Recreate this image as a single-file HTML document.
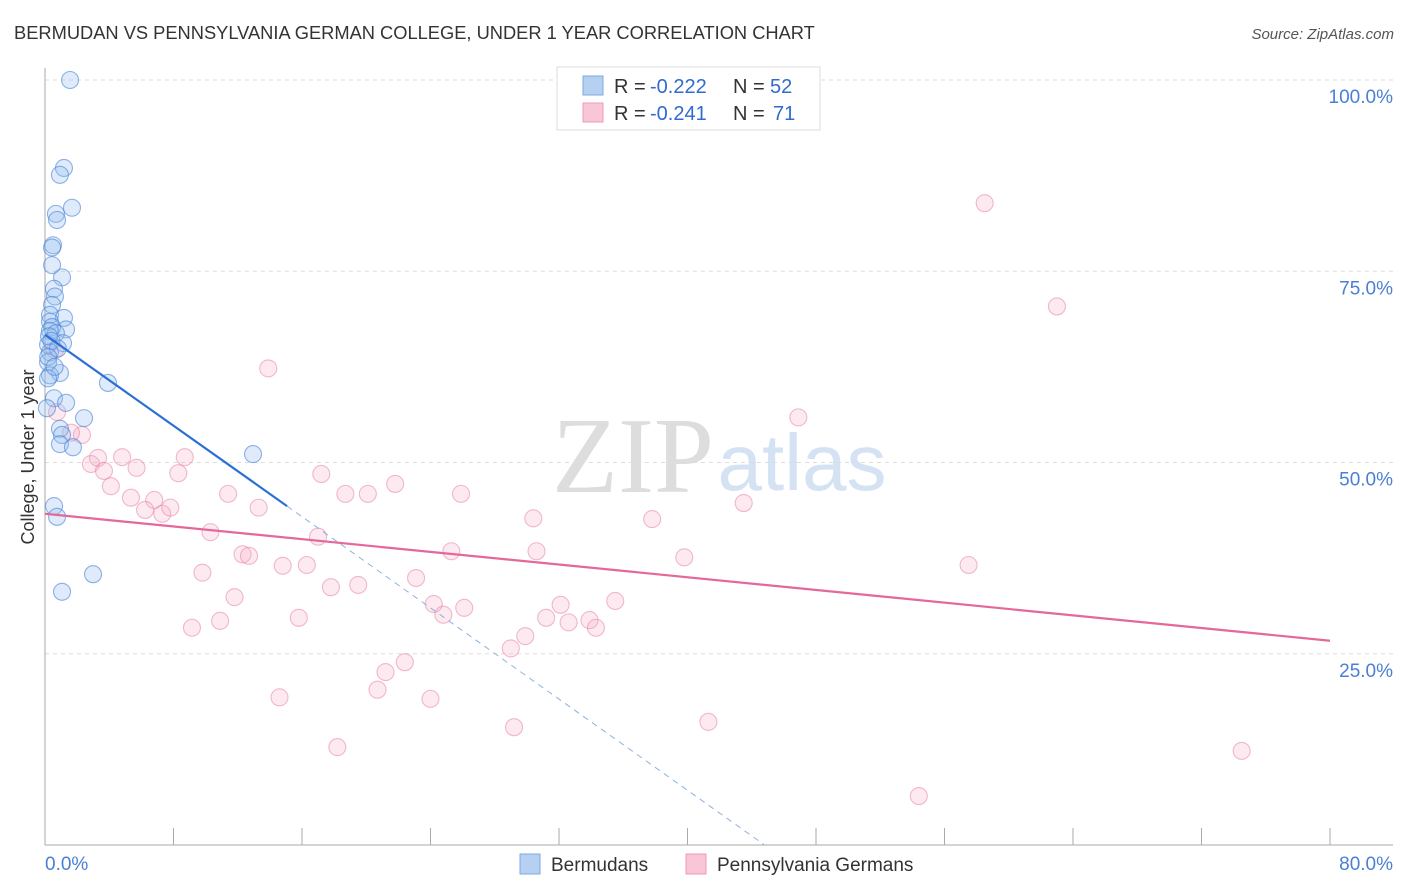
<!DOCTYPE html>
<html><head><meta charset="utf-8"><style>
body{margin:0;background:#fff;font-family:"Liberation Sans",sans-serif}
svg{display:block}
</style></head><body>
<svg id="chart" width="1406" height="892">
<text x="14" y="39" font-size="18.3" fill="#333">BERMUDAN VS PENNSYLVANIA GERMAN COLLEGE, UNDER 1 YEAR CORRELATION CHART</text>
<text x="1394" y="39" font-size="15" fill="#555" font-style="italic" text-anchor="end">Source: ZipAtlas.com</text>
<g>
<text x="633" y="492" font-size="108" fill="#ddd" font-family="Liberation Serif,serif" text-anchor="middle">ZIP</text>
<text x="802" y="490" font-size="80" fill="#d5e2f4" text-anchor="middle">atlas</text>
</g>
<g id="grid"></g>
<g id="axes"></g>
<g id="marks"></g>
<text transform="translate(34,457) rotate(-90)" font-size="18" fill="#333" text-anchor="middle">College, Under 1 year</text>
<text x="45" y="870" font-size="19" fill="#4a7fd4">0.0%</text>
<text x="1393" y="870" font-size="19" fill="#4a7fd4" text-anchor="end">80.0%</text>
<g>
<rect x="557" y="67" width="263" height="63" fill="#fff" stroke="#ddd"/>
<rect x="583" y="76" width="20" height="19" fill="#b6d0f2" stroke="#7fa8e0"/>
<rect x="583" y="103" width="20" height="19" fill="#f8c6d6" stroke="#ee9bb6"/>
<text x="614" y="93" font-size="20" fill="#333">R =</text>
<text x="650" y="93" font-size="20" fill="#2f6bd0">-0.222</text>
<text x="733" y="93" font-size="20" fill="#333">N =</text>
<text x="770" y="93" font-size="20" fill="#2f6bd0">52</text>
<text x="614" y="120" font-size="20" fill="#333">R =</text>
<text x="650" y="120" font-size="20" fill="#2f6bd0">-0.241</text>
<text x="733" y="120" font-size="20" fill="#333">N =</text>
<text x="773" y="120" font-size="20" fill="#2f6bd0">71</text>
</g>
<g>
<rect x="520" y="854" width="20" height="20" fill="#b6d0f2" stroke="#7fa8e0"/>
<text x="551" y="871" font-size="19" fill="#333">Bermudans</text>
<rect x="686" y="854" width="20" height="20" fill="#f8c6d6" stroke="#ee9bb6"/>
<text x="717" y="871" font-size="19" fill="#333">Pennsylvania Germans</text>
</g>
</svg>
<script>
const yTicks=[25,50,75,100];
const yTickLabels=["25.0%","50.0%","75.0%","100.0%"];
const xTicks=[0,8,16,24,32,40,48,56,64,72,80];
const blueX=[1.56,1.18,0.93,1.68,0.68,0.75,0.5,0.44,1.06,0.44,0.56,0.62,0.44,0.31,1.18,0.31,1.31,0.44,0.31,0.68,1.12,0.19,0.31,0.19,0.93,0.31,0.19,3.92,0.56,1.31,0.12,2.43,0.93,1.06,0.93,1.74,12.95,0.56,0.75,2.99,1.06,0.25,0.4,0.8,0.2,0.6];
const blueY=[100,88.5,87.6,83.3,82.5,81.7,78.4,78.1,74.2,75.8,72.7,71.7,70.6,69.3,68.9,68.4,67.4,67.7,67.2,66.9,65.6,65.4,64.4,63.1,61.7,61.4,61.0,60.4,58.4,57.8,57.1,55.8,54.4,53.6,52.4,52.0,51.1,44.3,42.9,35.4,33.1,66.5,65.9,64.9,63.8,62.5];
const pinkX=[58.5,63.0,13.9,0.62,46.9,0.75,2.3,1.62,2.86,3.3,3.67,4.1,4.8,5.7,5.35,6.8,6.23,7.3,7.8,8.3,8.7,10.3,11.4,13.3,12.3,12.7,9.8,11.8,10.9,9.15,14.8,16.3,15.8,14.6,17.0,17.2,18.7,17.8,19.5,20.1,21.8,23.1,24.2,24.8,26.1,25.3,25.9,18.2,20.7,21.2,22.4,24.0,29.2,29.0,29.9,30.4,30.6,31.2,32.1,32.6,33.9,34.3,35.5,37.8,39.8,41.3,43.5,54.4,57.5,74.5];
const pinkY=[83.9,70.4,62.3,64.7,55.9,56.6,53.6,53.9,49.8,50.6,48.9,46.9,50.7,49.3,45.4,45.1,43.8,43.3,44.1,48.6,50.7,40.9,45.9,44.1,38.0,37.8,35.6,32.4,29.3,28.4,36.5,36.6,29.7,19.3,40.3,48.5,45.9,33.7,34.0,45.9,47.2,34.9,31.5,30.1,31.0,38.4,45.9,12.8,20.3,22.6,23.9,19.1,15.4,25.7,27.3,42.7,38.4,29.7,31.4,29.1,29.4,28.4,31.9,42.6,37.6,16.1,44.7,6.4,36.6,12.3];
const blueTrend=[[0,66.7],[15.07,44.3],[44.8,0]];
const pinkTrend=[[0,43.3],[80,26.7]];
const NS="http://www.w3.org/2000/svg";
const sx=v=>45+v/80*1285, sy=v=>845-v/100*765;
function mk(tag,attrs,parent){const e=document.createElementNS(NS,tag);for(const k in attrs)e.setAttribute(k,attrs[k]);parent.appendChild(e);return e;}
const grid=document.getElementById('grid'),axes=document.getElementById('axes'),marks=document.getElementById('marks');
yTicks.forEach((t,i)=>{
 const l=mk('line',{x1:45,x2:1393,y1:sy(t),y2:sy(t),stroke:'#ddd','stroke-dasharray':'4,4'},grid);
 
 
 const tx=mk('text',{x:1393,y:sy(t)+23,'font-size':19,fill:'#4a7fd4','text-anchor':'end'},axes);
 tx.textContent=yTickLabels[i];
 
 
});
const ya=mk('line',{x1:45,x2:45,y1:68,y2:845,stroke:'#aaa'},axes);


const xa=mk('line',{x1:45,x2:1393,y1:845,y2:845,stroke:'#aaa'},axes);


xTicks.forEach(t=>{
 const l=mk('line',{x1:sx(t),x2:sx(t),y1:828,y2:845,stroke:'#aaa'},axes);
 
 
});
pinkX.forEach((x,i)=>{
 const c=mk('circle',{cx:sx(x),cy:sy(pinkY[i]),r:8.5,fill:'rgba(244,170,196,0.25)',stroke:'rgba(232,130,165,0.55)','stroke-width':1.1},marks);
 
 
});
blueX.forEach((x,i)=>{
 const c=mk('circle',{cx:sx(x),cy:sy(blueY[i]),r:8.5,fill:'rgba(150,188,238,0.3)',stroke:'rgba(70,130,215,0.6)','stroke-width':1.1},marks);
 
 
});
const bt1=mk('line',{x1:sx(blueTrend[0][0]),y1:sy(blueTrend[0][1]),x2:sx(blueTrend[1][0]),y2:sy(blueTrend[1][1]),stroke:'#2a6fd6','stroke-width':2.2},marks);


const bt2=mk('line',{x1:sx(blueTrend[1][0]),y1:sy(blueTrend[1][1]),x2:sx(blueTrend[2][0]),y2:sy(blueTrend[2][1]),stroke:'#8fb0e0','stroke-width':1,'stroke-dasharray':'6,5'},marks);


const pt=mk('line',{x1:sx(pinkTrend[0][0]),y1:sy(pinkTrend[0][1]),x2:sx(pinkTrend[1][0]),y2:sy(pinkTrend[1][1]),stroke:'#e4689a','stroke-width':2.2},marks);


</script>
</body></html>
